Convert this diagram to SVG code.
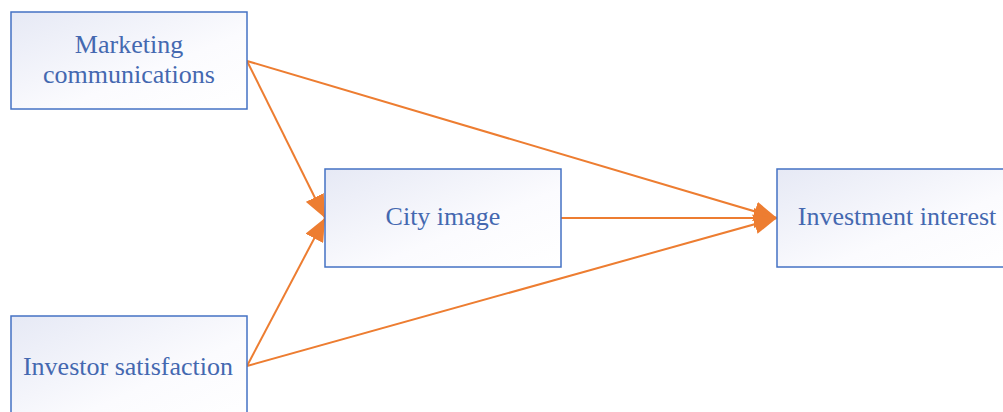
<svg xmlns="http://www.w3.org/2000/svg" width="1003" height="412" viewBox="0 0 1003 412">
<defs>
<linearGradient id="g" x1="0" y1="0" x2="1" y2="1">
<stop offset="0" stop-color="#E6E9F5"/>
<stop offset="0.6" stop-color="#FBFBFE"/>
<stop offset="1" stop-color="#FFFFFF"/>
</linearGradient>
<marker id="ah" markerUnits="userSpaceOnUse" markerWidth="23" markerHeight="20" viewBox="0 0 23 20" refX="23" refY="10" orient="auto">
<path d="M0,0 L23,10 L0,20 Z" fill="#ED7D31"/>
</marker>
<style>
.box{fill:url(#g);stroke:#4472C4;stroke-width:1.5}
.t{font-family:"Liberation Serif","Times New Roman",serif;font-size:26px;fill:#4468B0;text-anchor:middle}
.c{stroke:#ED7D31;stroke-width:2;fill:none;marker-end:url(#ah)}
</style>
</defs>
<g id="connectors">
<line class="c" x1="247" y1="61" x2="325" y2="218"/>
<line class="c" x1="247" y1="366" x2="325" y2="218"/>
<line class="c" x1="247" y1="61" x2="777" y2="218"/>
<line class="c" x1="561" y1="218" x2="777" y2="218"/>
<line class="c" x1="247" y1="366" x2="777" y2="218"/>
</g>
<g id="marketing">
<rect class="box" x="11" y="12" width="236" height="97"/>
<text class="t" x="129" y="53">Marketing</text>
<text class="t" x="129" y="83">communications</text>
</g>
<g id="city">
<rect class="box" x="325" y="169" width="236" height="98"/>
<text class="t" x="443" y="225">City image</text>
</g>
<g id="investment">
<rect class="box" x="777" y="169" width="240" height="98"/>
<text class="t" x="897" y="225">Investment interest</text>
</g>
<g id="investor">
<rect class="box" x="11" y="316" width="236" height="110"/>
<text class="t" x="128" y="375">Investor satisfaction</text>
</g>
</svg>
